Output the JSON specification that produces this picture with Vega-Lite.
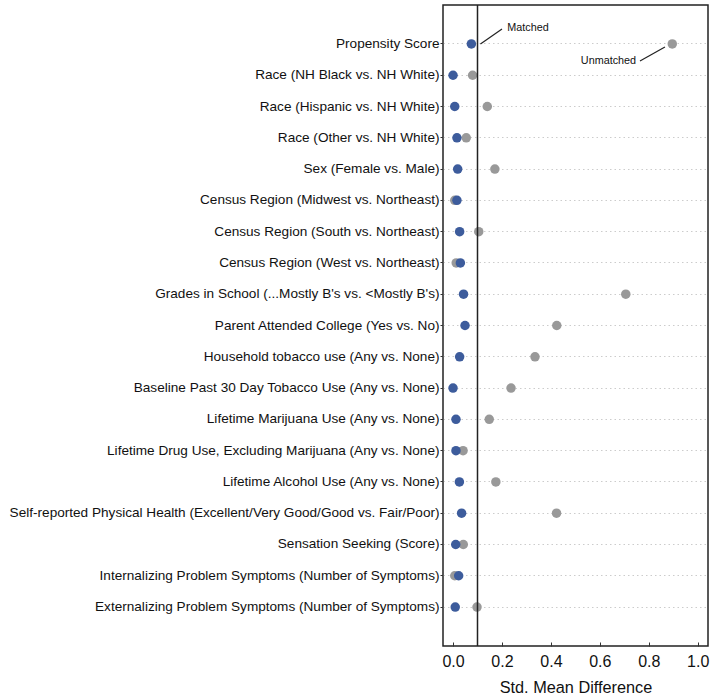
{
  "$schema": "https://vega.github.io/schema/vega-lite/v6.json",
  "autosize": {"type": "none"},
  "padding": {"left": 443, "top": 5, "right": 7, "bottom": 51},
  "width": 265,
  "height": 641,
  "config": {
    "font": "Liberation Sans",
    "view": {"stroke": "#222222", "strokeWidth": 1.5}
  },
  "datasets": {
    "smd": [
      {"variable": "Propensity Score", "sample": "Unmatched", "smd": 0.896},
      {"variable": "Race (NH Black vs. NH White)", "sample": "Unmatched", "smd": 0.08},
      {"variable": "Race (Hispanic vs. NH White)", "sample": "Unmatched", "smd": 0.14},
      {"variable": "Race (Other vs. NH White)", "sample": "Unmatched", "smd": 0.054},
      {"variable": "Sex (Female vs. Male)", "sample": "Unmatched", "smd": 0.171},
      {"variable": "Census Region (Midwest vs. Northeast)", "sample": "Unmatched", "smd": 0.007},
      {"variable": "Census Region (South vs. Northeast)", "sample": "Unmatched", "smd": 0.105},
      {"variable": "Census Region (West vs. Northeast)", "sample": "Unmatched", "smd": 0.013},
      {"variable": "Grades in School (...Mostly B's vs. <Mostly B's)", "sample": "Unmatched", "smd": 0.706},
      {"variable": "Parent Attended College (Yes vs. No)", "sample": "Unmatched", "smd": 0.424},
      {"variable": "Household tobacco use (Any vs. None)", "sample": "Unmatched", "smd": 0.335},
      {"variable": "Baseline Past 30 Day Tobacco Use (Any vs. None)", "sample": "Unmatched", "smd": 0.237},
      {"variable": "Lifetime Marijuana Use (Any vs. None)", "sample": "Unmatched", "smd": 0.148},
      {"variable": "Lifetime Drug Use, Excluding Marijuana (Any vs. None)", "sample": "Unmatched", "smd": 0.041},
      {"variable": "Lifetime Alcohol Use (Any vs. None)", "sample": "Unmatched", "smd": 0.175},
      {"variable": "Self-reported Physical Health (Excellent/Very Good/Good vs. Fair/Poor)", "sample": "Unmatched", "smd": 0.423},
      {"variable": "Sensation Seeking (Score)", "sample": "Unmatched", "smd": 0.042},
      {"variable": "Internalizing Problem Symptoms (Number of Symptoms)", "sample": "Unmatched", "smd": 0.007},
      {"variable": "Externalizing Problem Symptoms (Number of Symptoms)", "sample": "Unmatched", "smd": 0.098},
      {"variable": "Propensity Score", "sample": "Matched", "smd": 0.075},
      {"variable": "Race (NH Black vs. NH White)", "sample": "Matched", "smd": 0.0},
      {"variable": "Race (Hispanic vs. NH White)", "sample": "Matched", "smd": 0.007},
      {"variable": "Race (Other vs. NH White)", "sample": "Matched", "smd": 0.016},
      {"variable": "Sex (Female vs. Male)", "sample": "Matched", "smd": 0.019},
      {"variable": "Census Region (Midwest vs. Northeast)", "sample": "Matched", "smd": 0.016},
      {"variable": "Census Region (South vs. Northeast)", "sample": "Matched", "smd": 0.027},
      {"variable": "Census Region (West vs. Northeast)", "sample": "Matched", "smd": 0.03},
      {"variable": "Grades in School (...Mostly B's vs. <Mostly B's)", "sample": "Matched", "smd": 0.043},
      {"variable": "Parent Attended College (Yes vs. No)", "sample": "Matched", "smd": 0.049},
      {"variable": "Household tobacco use (Any vs. None)", "sample": "Matched", "smd": 0.027},
      {"variable": "Baseline Past 30 Day Tobacco Use (Any vs. None)", "sample": "Matched", "smd": 0.0},
      {"variable": "Lifetime Marijuana Use (Any vs. None)", "sample": "Matched", "smd": 0.012},
      {"variable": "Lifetime Drug Use, Excluding Marijuana (Any vs. None)", "sample": "Matched", "smd": 0.012},
      {"variable": "Lifetime Alcohol Use (Any vs. None)", "sample": "Matched", "smd": 0.026},
      {"variable": "Self-reported Physical Health (Excellent/Very Good/Good vs. Fair/Poor)", "sample": "Matched", "smd": 0.035},
      {"variable": "Sensation Seeking (Score)", "sample": "Matched", "smd": 0.011},
      {"variable": "Internalizing Problem Symptoms (Number of Symptoms)", "sample": "Matched", "smd": 0.023},
      {"variable": "Externalizing Problem Symptoms (Number of Symptoms)", "sample": "Matched", "smd": 0.009}
    ],
    "notes": [
      {"variable": "Propensity Score", "label": "Matched", "x": 0.112, "x2": 0.2, "tx": 0.222, "side": "top"},
      {"variable": "Propensity Score", "label": "Unmatched", "x": 0.764, "x2": 0.866, "tx": 0.748, "side": "bottom"}
    ]
  },
  "encoding": {
    "y": {
      "field": "variable",
      "type": "nominal",
      "sort": null,
      "scale": {"type": "band", "paddingInner": 0, "paddingOuter": 0.745, "round": false},
      "axis": {
        "title": null,
        "domain": false,
        "grid": true,
        "gridColor": "#cccccc",
        "gridDash": [1.5, 3],
        "gridWidth": 1,
        "bandPosition": 0.5,
        "tickSize": 3,
        "tickColor": "#333333",
        "labelPadding": 1,
        "labelFontSize": 13.6,
        "labelColor": "#111111",
        "labelLimit": 500
      }
    }
  },
  "layer": [
    {
      "data": {"name": "smd"},
      "mark": {"type": "circle", "size": 90, "opacity": 1},
      "encoding": {
        "x": {
          "field": "smd",
          "type": "quantitative",
          "scale": {"domain": [-0.041, 1.042], "nice": false, "zero": false},
          "axis": {
            "title": "Std. Mean Difference",
            "titleFontSize": 16.3,
            "titleFontWeight": "normal",
            "titleColor": "#111111",
            "titlePadding": 10,
            "values": [0, 0.2, 0.4, 0.6, 0.8, 1.0],
            "format": ".1f",
            "domain": false,
            "grid": false,
            "tickSize": -4,
            "tickColor": "#333333",
            "labelPadding": 11,
            "labelFontSize": 16,
            "labelColor": "#111111"
          }
        },
        "color": {
          "field": "sample",
          "type": "nominal",
          "scale": {"domain": ["Unmatched", "Matched"], "range": ["#999999", "#3d5c9c"]},
          "legend": null
        }
      }
    },
    {
      "data": {"values": [{"v": 0.1}]},
      "mark": {"type": "rule", "color": "#222222", "strokeWidth": 1.5},
      "encoding": {"x": {"field": "v", "type": "quantitative"}, "y": null}
    },
    {
      "data": {"name": "notes"},
      "transform": [{"filter": "datum.side == 'top'"}],
      "layer": [
        {
          "mark": {"type": "rule", "color": "#222222", "strokeWidth": 1.2, "yOffset": 0, "y2Offset": -15},
          "encoding": {
            "x": {"field": "x", "type": "quantitative"},
            "x2": {"field": "x2"},
            "y": {"field": "variable", "type": "nominal", "bandPosition": 0.5},
            "y2": {"field": "variable", "bandPosition": 0.5}
          }
        },
        {
          "mark": {"type": "text", "align": "left", "baseline": "middle", "fontSize": 10.8, "dy": -16, "color": "#111111"},
          "encoding": {
            "x": {"field": "tx", "type": "quantitative"},
            "text": {"field": "label"}
          }
        }
      ]
    },
    {
      "data": {"name": "notes"},
      "transform": [{"filter": "datum.side == 'bottom'"}],
      "layer": [
        {
          "mark": {"type": "rule", "color": "#222222", "strokeWidth": 1.2, "yOffset": 17, "y2Offset": 3},
          "encoding": {
            "x": {"field": "x", "type": "quantitative"},
            "x2": {"field": "x2"},
            "y": {"field": "variable", "type": "nominal", "bandPosition": 0.5},
            "y2": {"field": "variable", "bandPosition": 0.5}
          }
        },
        {
          "mark": {"type": "text", "align": "right", "baseline": "middle", "fontSize": 10.8, "dy": 17, "color": "#111111"},
          "encoding": {
            "x": {"field": "tx", "type": "quantitative"},
            "text": {"field": "label"}
          }
        }
      ]
    }
  ]
}
